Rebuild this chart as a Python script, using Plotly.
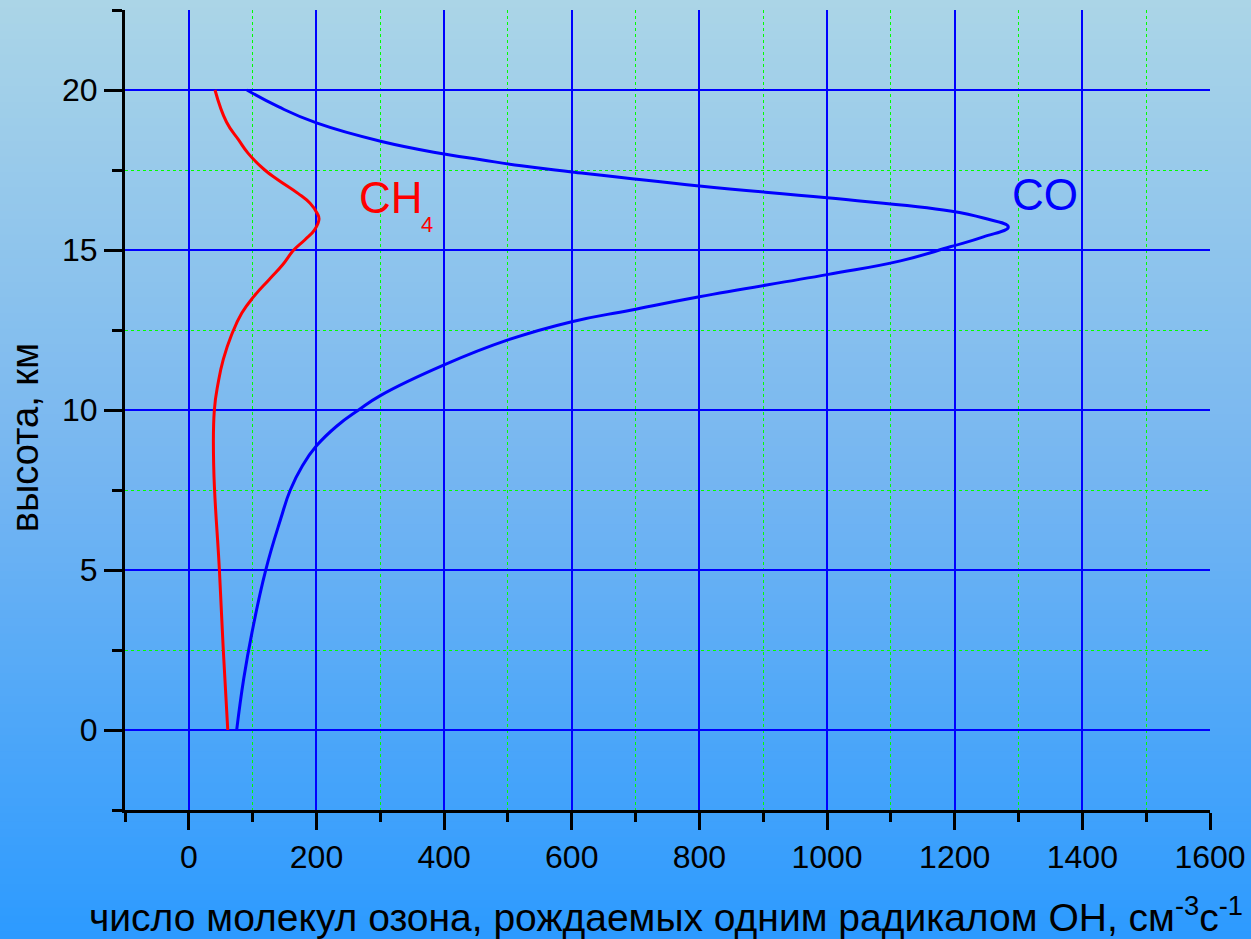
import plotly.graph_objects as go

# Altitude profiles (km) and ozone molecules produced per OH radical
co_height = [20.0, 19.47, 18.97, 18.39, 18.0, 17.82, 17.63, 17.44, 17.0, 16.63,
             16.22, 16.0, 15.72, 15.41, 15.1, 14.66, 14.23, 13.54, 13.12,
             12.76, 12.19, 11.41, 10.45, 10.0, 9.5, 8.88, 8.26, 7.5,
             6.6, 4.96, 3.05, 1.6, 0.0]
co_value = [91, 141, 200, 302, 400, 458, 521, 600, 800, 1000,
            1193, 1245, 1284, 1245, 1193, 1115, 1000, 800, 692,
            600, 500, 400, 300, 266, 232, 200, 178, 159,
            144, 120, 99, 86, 75]

ch4_height = [20.0, 19.0, 18.44, 18.02, 17.5, 17.19, 16.77, 16.46, 16.15, 15.97,
              15.63, 15.32, 14.99, 14.54, 14.08, 13.55, 13.03, 12.35, 11.58, 10.85,
              10.0, 8.24, 4.96, 2.5, 0.0]
ch4_value = [41, 59, 78, 93, 119, 140, 171, 190, 201, 204,
             197, 182, 164, 147, 126, 102, 83, 67, 54, 46,
             40, 39, 48, 54, 61]

x_title = "число молекул озона, рождаемых одним радикалом ОН, см<sup>-3</sup>с<sup>-1</sup>"
y_title = "высота, км"

# Background gradient stops (page top -> page bottom)
bg_stops = [(0.0, (171, 213, 231)), (0.5, (118, 182, 241)), (1.0, (44, 154, 255))]

FONT = "Liberation Sans, Arial, sans-serif"

fig = go.Figure()
fig.add_trace(go.Scatter(x=ch4_value, y=ch4_height, mode="lines",
                         line=dict(color="#ff0000", width=3, shape="spline", smoothing=1.3),
                         hoverinfo="skip", showlegend=False))
fig.add_trace(go.Scatter(x=co_value, y=co_height, mode="lines",
                         line=dict(color="#0000ff", width=3, shape="spline", smoothing=1.3),
                         hoverinfo="skip", showlegend=False))

W, H = 1251, 939
ML, MR, MT, MB = 125, 41, 10, 129
PW, PH = W - ML - MR, H - MT - MB


def lerp_color(t):
    for (t0, c0), (t1, c1) in zip(bg_stops[:-1], bg_stops[1:]):
        if t0 <= t <= t1:
            f = (t - t0) / (t1 - t0)
            return "rgb(%d,%d,%d)" % tuple(round(a + (b - a) * f) for a, b in zip(c0, c1))
    return "rgb(%d,%d,%d)" % bg_stops[-1][1]


# vertical gradient drawn as thin strips behind everything
n_strips = 120
shapes = []
for i in range(n_strips):
    top_px = H * i / n_strips
    bot_px = H * (i + 1) / n_strips + 1
    y0 = (H - MB - bot_px) / PH
    y1 = (H - MB - top_px) / PH
    shapes.append(dict(type="rect", xref="paper", yref="paper",
                       x0=-ML / PW - 0.01, x1=1 + MR / PW + 0.01, y0=y0, y1=y1,
                       fillcolor=lerp_color((i + 0.5) / n_strips),
                       line=dict(width=0), layer="below"))

axis_common = dict(
    showline=True, linecolor="black", linewidth=3,
    ticks="outside", tickcolor="black", tickwidth=3,
    showgrid=True, gridcolor="#0000ff", gridwidth=1.5,
    zeroline=False, automargin=False,
    tickfont=dict(family=FONT, size=32, color="black"),
)

fig.update_layout(
    width=W, height=H,
    margin=dict(l=ML, r=MR, t=MT, b=MB, autoexpand=False),
    paper_bgcolor=lerp_color(0.5),
    plot_bgcolor="rgba(0,0,0,0)",
    shapes=shapes,
    xaxis=dict(range=[-100, 1600], tick0=0, dtick=200, ticklen=17,
               minor=dict(tick0=0, dtick=100, ticks="outside", ticklen=9, tickwidth=3,
                          tickcolor="black", showgrid=True, gridcolor="#00ff00",
                          griddash="dot", gridwidth=1),
               **axis_common),
    yaxis=dict(range=[-2.5, 22.5], tick0=0, dtick=5, ticklen=18,
               minor=dict(tick0=0, dtick=2.5, ticks="outside", ticklen=10, tickwidth=3,
                          tickcolor="black", showgrid=True, gridcolor="#00ff00",
                          griddash="dot", gridwidth=1),
               **axis_common),
    annotations=[
        dict(text=x_title, xref="paper", yref="paper", x=0.4986, y=-0.1305,
             xanchor="center", yanchor="middle", showarrow=False,
             font=dict(family=FONT, size=39, color="black")),
        dict(text=y_title, xref="paper", yref="paper", x=-0.0922, y=0.466,
             xanchor="center", yanchor="middle", textangle=-90, showarrow=False,
             font=dict(family=FONT, size=38, color="black")),
        dict(text="CH", x=263, y=16.63, xanchor="left", yanchor="middle",
             showarrow=False, font=dict(family=FONT, size=44, color="#ff0000")),
        dict(text="4", x=361, y=15.79, xanchor="left", yanchor="middle",
             showarrow=False, font=dict(family=FONT, size=22, color="#ff0000")),
        dict(text="CO", x=1286, y=16.75, xanchor="left", yanchor="middle",
             showarrow=False, font=dict(family=FONT, size=44, color="#0000ff")),
    ],
)

fig.write_html("out.html")
